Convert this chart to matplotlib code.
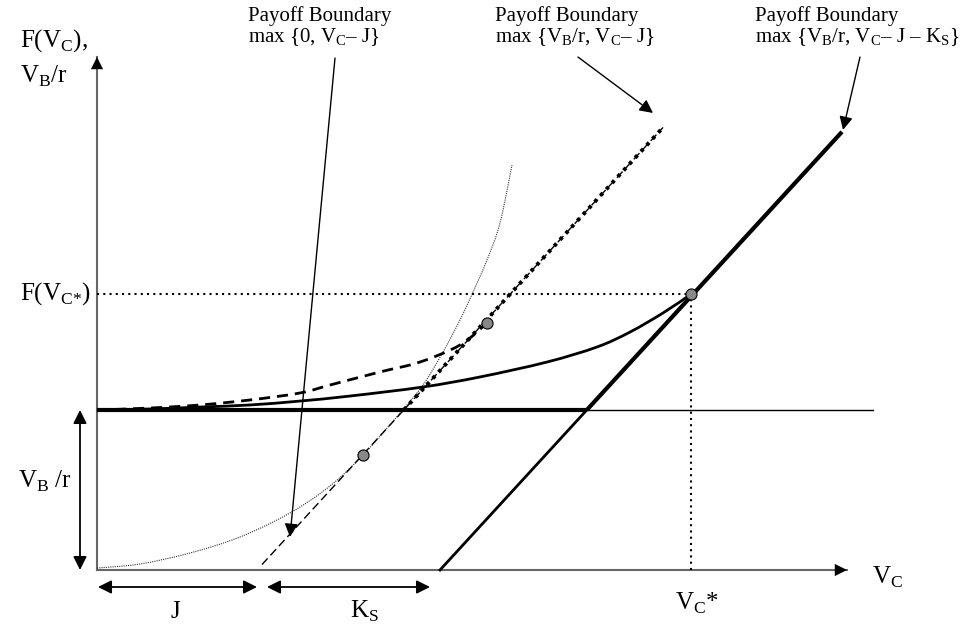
import numpy as np
import matplotlib
matplotlib.use('Agg')
import matplotlib.pyplot as plt
from matplotlib.path import Path
from matplotlib.patches import PathPatch

plt.rcParams['font.family'] = ['Liberation Serif', 'DejaVu Serif']
plt.rcParams['mathtext.fontset'] = 'custom'
plt.rcParams['mathtext.rm'] = 'Liberation Serif'

# model parameters (diagram units)
J = 160.0          # investment cost J
K_S = 183.0        # switching cost K_S
VB_r = 146.8       # perpetual value V_B/r
VC_star = 594.0    # trigger value V_C*
F_star = 253.0     # F(V_C*)

# option value without the base project (thin dotted)
f0_x = [0, 43, 93, 143, 193, 233, 266, 303, 326, 346, 363, 376, 390, 403, 415]
f0_y = [1.8, 5.5, 15.6, 30.3, 52.3, 77.1, 105.5, 144.0, 169.7, 200.0, 229.4,
        255.0, 284.4, 318.3, 371.6]

# option value with switching cost zero (dashed)
f1_x = [0, 53, 103, 153, 203, 233, 283, 323, 363, 390]
f1_y = [146.8, 148.6, 151.4, 156.0, 162.4, 169.7, 181.7, 190.8, 206.4, 226.6]

# option value with switching cost K_S (solid)
f2_x = [0, 53, 103, 153, 203, 253, 326, 383, 450, 500, 533, 566, 594]
f2_y = [146.8, 147.7, 149.5, 151.4, 155.0, 159.6, 167.9, 177.1, 190.8, 204.6,
        218.3, 235.8, 253.0]

# smooth-pasting points
tan_x = [266, 390, VC_star]
tan_y = [105.5, 226.6, F_star]

ky = 1.09  # vertical stretch of the drawing


def smooth_path(xs, ys):
    # Catmull-Rom through the points, drawn as cubic Bezier segments
    p = np.column_stack([xs, ys]).astype(float)
    verts = [p[0]]
    codes = [Path.MOVETO]
    for i in range(len(p) - 1):
        p0 = p[i - 1] if i > 0 else p[i]
        p3 = p[i + 2] if i + 2 < len(p) else p[i + 1]
        c1 = p[i] + (p[i + 1] - p0) / 6.0
        c2 = p[i + 1] - (p3 - p[i]) / 6.0
        verts += [c1, c2, p[i + 1]]
        codes += [Path.CURVE4] * 3
    return Path(verts, codes)


fig = plt.figure(figsize=(9.62, 6.3), dpi=100)
ax = fig.add_axes([0, 0, 1, 1])
ax.set_xlim(-97, 865)
ax.set_ylim(-60 / ky, 570 / ky)
ax.axis('off')

# axes with arrows
x_end = 750
y_end = 513 / ky
ax.plot([0, x_end], [0, 0], color='#666666', lw=1.5, zorder=1)
ax.plot([0, 0], [0, y_end], color='#666666', lw=1.5, zorder=1)
ax.annotate('', xy=(x_end, 0), xytext=(x_end - 2, 0),
            arrowprops=dict(arrowstyle='-|>', color='k', mutation_scale=22, lw=0))
ax.annotate('', xy=(0, y_end), xytext=(0, y_end - 2),
            arrowprops=dict(arrowstyle='-|>', color='k', mutation_scale=22, lw=0))

# V_B/r level
x_kink = J + K_S + VB_r
ax.plot([0, 776], [VB_r, VB_r], color='k', lw=1)
ax.plot([0, x_kink], [VB_r, VB_r], color='k', lw=3, solid_capstyle='butt')

# payoff V_C - J - K_S
ax.plot([J + K_S, x_kink], [0, VB_r], color='k', lw=2)
ax.plot([x_kink, 745], [VB_r, 745 - J - K_S], color='k', lw=3, solid_capstyle='butt')

# payoff V_C - J
x0 = J + 5
ax.plot([x0, 566], [x0 - J, 566 - J], color='k', lw=1, dashes=(6, 3))
ax.plot([J + VB_r, 566], [VB_r, 566 - J], color='k', lw=2.8, dashes=(0.9, 1.3))

# option value curves
ax.add_patch(PathPatch(smooth_path(f0_x, f0_y), fill=False, ec='#333333',
                       lw=0.8, ls=(0, (1, 1))))
ax.add_patch(PathPatch(smooth_path(f1_x, f1_y), fill=False, ec='k',
                       lw=2, ls=(0, (4, 2.5))))
ax.add_patch(PathPatch(smooth_path(f2_x, f2_y), fill=False, ec='k', lw=2))

# guides for the trigger
ax.plot([0, VC_star], [F_star, F_star], color='k', lw=1.5, ls=(0, (1, 2)))
ax.plot([VC_star, VC_star], [0, F_star], color='k', lw=1.5, ls=(0, (1, 2)))

ax.plot(tan_x, tan_y, 'o', ms=8, mfc='#888888', mec='k', mew=0.8, zorder=5)

# dimension arrows
dim = dict(arrowstyle='<|-|>', color='k', lw=1.3, mutation_scale=20, shrinkA=0, shrinkB=0)
ax.annotate('', xy=(-17, 0), xytext=(-17, VB_r), arrowprops=dim)
ax.annotate('', xy=(1, -15.6), xytext=(J, -15.6), arrowprops=dim)
ax.annotate('', xy=(J + 10, -15.6), xytext=(J + K_S - 10, -15.6), arrowprops=dim)

# boundary callouts
pt = dict(arrowstyle='-|>', color='k', lw=1, mutation_scale=20, shrinkA=0, shrinkB=0)
ax.annotate('', xy=(193, 30.3), xytext=(238, 469.7), arrowprops=pt)
ax.annotate('', xy=(556, 419.3), xytext=(481, 470.6), arrowprops=pt)
ax.annotate('', xy=(746, 403.7), xytext=(763, 470.6), arrowprops=pt)

fs_note = 15
sub = lambda s: r'$_\mathregular{%s}$' % s
ax.text(151, 503.7, 'Payoff Boundary', fontsize=fs_note, va='baseline')
ax.text(151, 484.4, 'max {0, V' + sub('C') + '– J}', fontsize=fs_note, va='baseline')
ax.text(398, 503.7, 'Payoff Boundary', fontsize=fs_note, va='baseline')
ax.text(398, 484.4, 'max {V' + sub('B') + '/r, V' + sub('C') + '– J}',
        fontsize=fs_note, va='baseline')
ax.text(658, 503.7, 'Payoff Boundary', fontsize=fs_note, va='baseline')
ax.text(658, 484.4, 'max {V' + sub('B') + '/r, V' + sub('C') + '– J – K' + sub('S') + '}',
        fontsize=fs_note, va='baseline')

fs = 18
ax.text(-77, 479.8, 'F(V' + sub('C') + '),', fontsize=fs, va='baseline')
ax.text(-77, 446.8, 'V' + sub('B') + '/r', fontsize=fs, va='baseline')
ax.text(-77, 247.7, 'F(V' + r'$_\mathregular{C{*}}$' + ')', fontsize=fs, va='baseline')
ax.text(-79, 75.2, 'V' + sub('B') + ' /r', fontsize=fs, va='baseline')
ax.text(78, -44, 'J', fontsize=fs, va='baseline', ha='center')
ax.text(253, -44, 'K' + sub('S'), fontsize=fs, va='baseline')
ax.text(578, -36.7, 'V' + sub('C') + '*', fontsize=fs, va='baseline')
ax.text(775, -12.8, 'V' + sub('C'), fontsize=fs, va='baseline')

plt.savefig('out.png', dpi=100)
